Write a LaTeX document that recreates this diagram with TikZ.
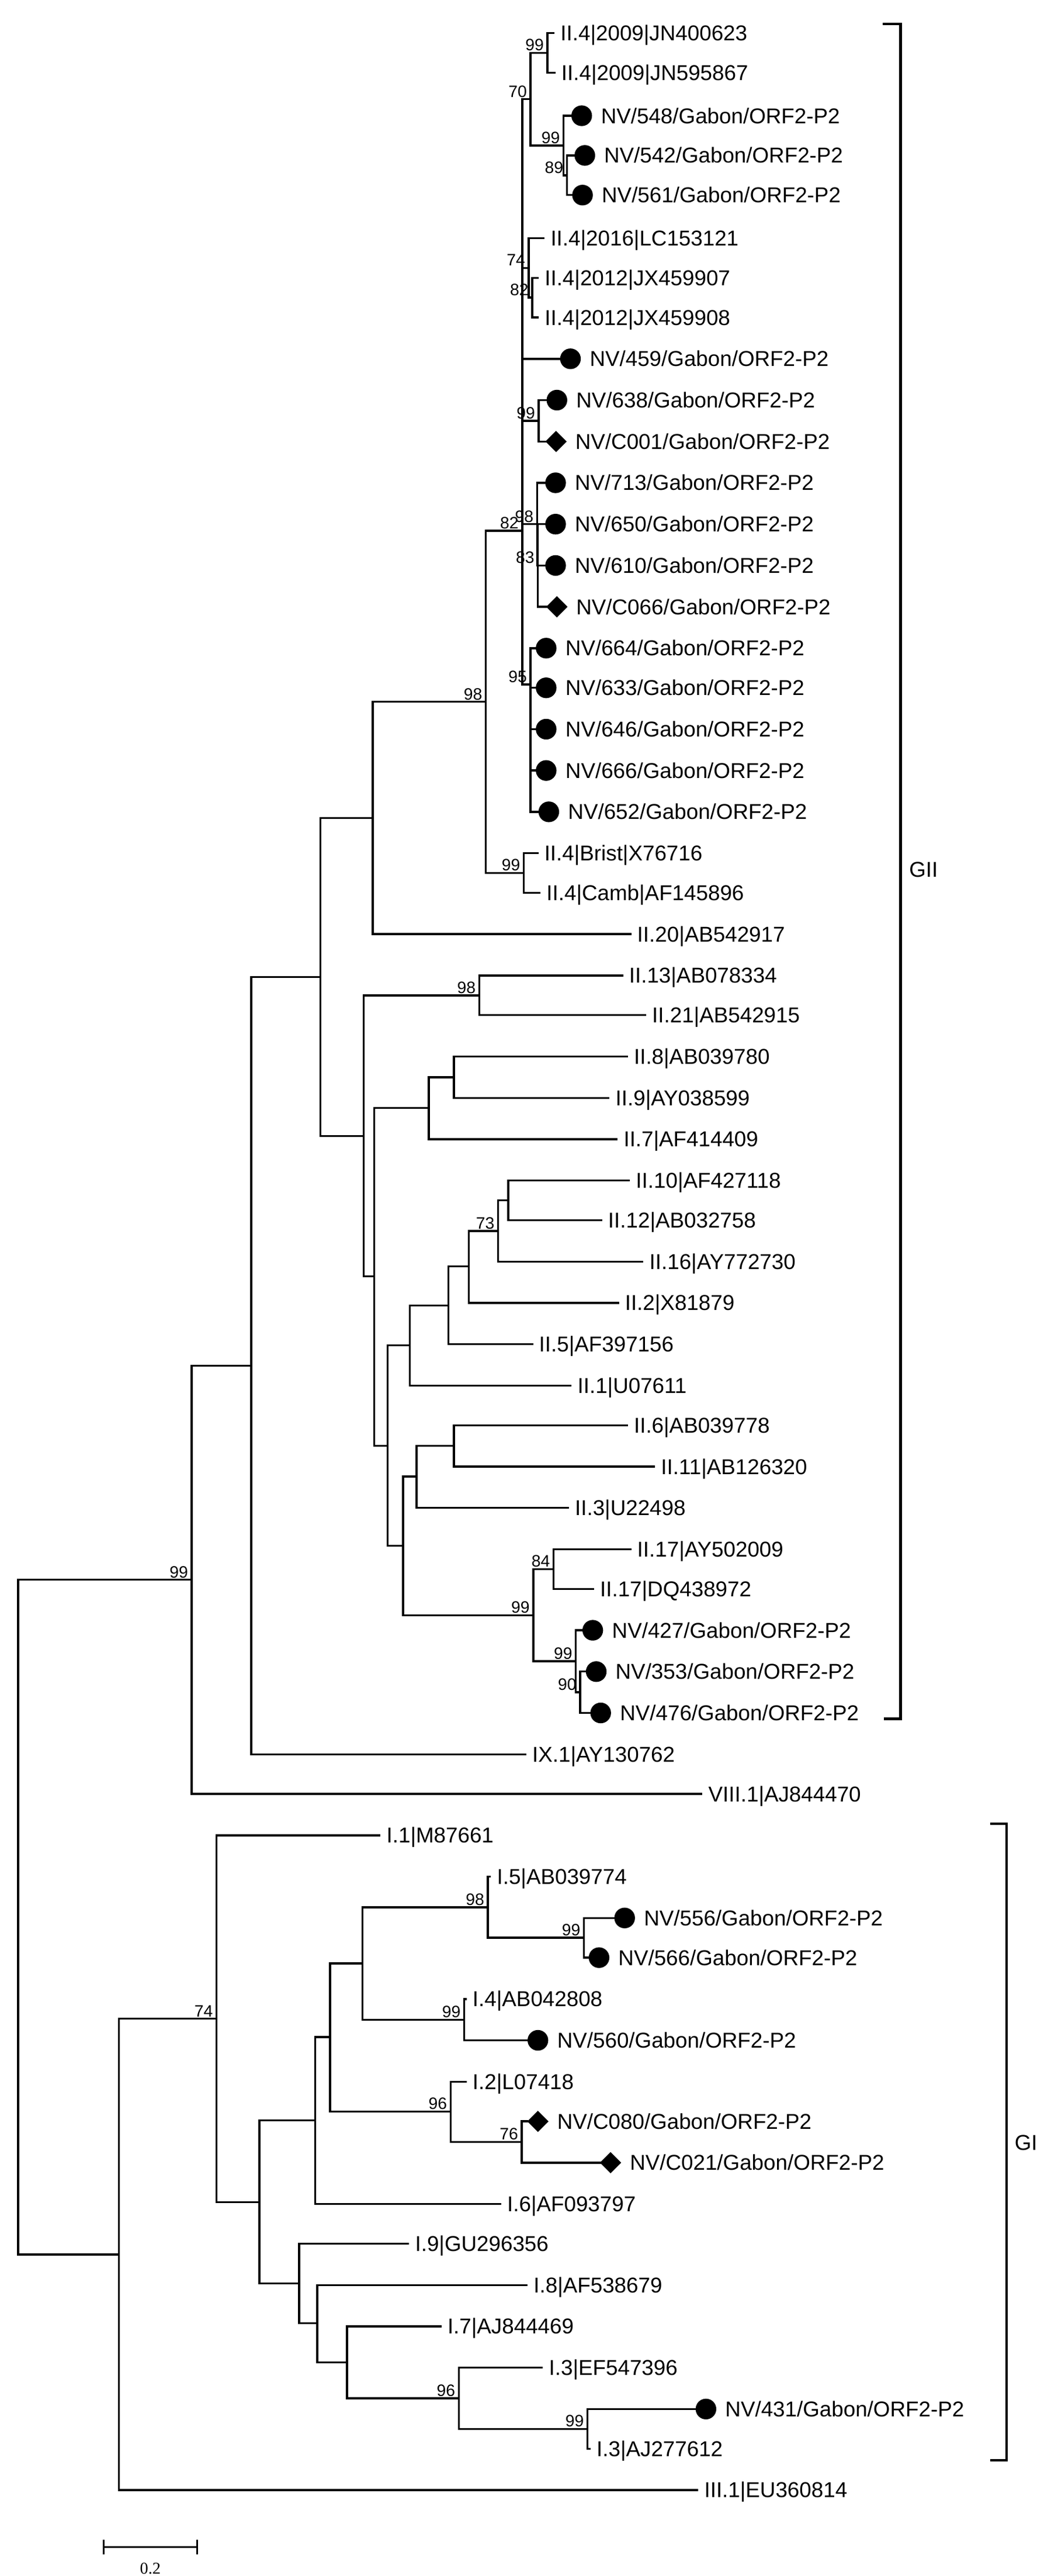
\documentclass[tikz,border=0pt]{standalone}
\usepackage{fontspec}
\setmainfont{Liberation Sans}
\newfontfamily\serifb{Liberation Serif}
\usetikzlibrary{shapes.geometric}
\tikzset{
  tr/.style={line width=1.2pt, line cap=rect},
  lbl/.style={anchor=base west, inner sep=0pt, font=\fontsize{13}{15}\selectfont},
  bsl/.style={anchor=south east, inner sep=0pt, font=\fontsize{10}{12}\selectfont},
  dotm/.style={circle, fill=black, inner sep=0pt, minimum size=12.5pt},
  diam/.style={diamond, fill=black, inner sep=0pt, minimum size=13pt},
  brk/.style={line width=1.5pt}
}
\newcommand\nd[3]{\coordinate (#1) at (#2,#3);}
\newcommand\lfn[4]{\coordinate (#1) at ({#2-4},#3);\node[lbl] (#1t) at (#2,{#3+4.6}) {#4};}
\newcommand\lfc[4]{\coordinate (#1) at ({#2-18},#3);\node[dotm] (#1m) at ({#2-11.5},#3) {};\node[lbl] (#1t) at (#2,{#3+4.6}) {#4};}
\newcommand\lfd[4]{\coordinate (#1) at ({#2-18},#3);\node[diam] (#1m) at ({#2-11.5},#3) {};\node[lbl] (#1t) at (#2,{#3+4.6}) {#4};}
\newcommand\br[2]{\draw[tr] (#1) |- (#2);}
\newcommand\bs[2]{\node[bsl] (bs#1) at ([xshift=-2pt,yshift=1pt]#1) {#2};}
\begin{document}
\begin{tikzpicture}[x=1pt,y=-1pt]
\useasboundingbox (0,0) rectangle (640,1558);
% leaves GII
\lfn{JNa}{339}{20}{II.4|2009|JN400623}
\lfn{JNb}{339.5}{44}{II.4|2009|JN595867}
\lfc{v548}{363.5}{70}{NV/548/Gabon/ORF2-P2}
\lfc{v542}{365.4}{94}{NV/542/Gabon/ORF2-P2}
\lfc{v561}{364}{118}{NV/561/Gabon/ORF2-P2}
\lfn{LC}{333}{144}{II.4|2016|LC153121}
\lfn{JXa}{329.4}{168}{II.4|2012|JX459907}
\lfn{JXb}{329.4}{192}{II.4|2012|JX459908}
\lfc{v459}{356.7}{217}{NV/459/Gabon/ORF2-P2}
\lfc{v638}{348.5}{242}{NV/638/Gabon/ORF2-P2}
\lfd{vC001}{348}{267}{NV/C001/Gabon/ORF2-P2}
\lfc{v713}{347.7}{292}{NV/713/Gabon/ORF2-P2}
\lfc{v650}{347.7}{317}{NV/650/Gabon/ORF2-P2}
\lfc{v610}{347.7}{342}{NV/610/Gabon/ORF2-P2}
\lfd{vC066}{348.5}{367}{NV/C066/Gabon/ORF2-P2}
\lfc{v664}{342}{392}{NV/664/Gabon/ORF2-P2}
\lfc{v633}{342}{416}{NV/633/Gabon/ORF2-P2}
\lfc{v646}{342}{441}{NV/646/Gabon/ORF2-P2}
\lfc{v666}{342}{466}{NV/666/Gabon/ORF2-P2}
\lfc{v652}{343.6}{491}{NV/652/Gabon/ORF2-P2}
\lfn{Brist}{329.2}{516}{II.4|Brist|X76716}
\lfn{Camb}{330.5}{540}{II.4|Camb|AF145896}
\lfn{IIxx}{385.4}{565}{II.20|AB542917}
\lfn{IIxiii}{380.5}{590}{II.13|AB078334}
\lfn{IIxxi}{394.4}{614}{II.21|AB542915}
\lfn{IIviii}{383.4}{639}{II.8|AB039780}
\lfn{IIix}{372.3}{664}{II.9|AY038599}
\lfn{IIvii}{377.2}{689}{II.7|AF414409}
\lfn{IIx}{384.6}{714}{II.10|AF427118}
\lfn{IIxii}{367.8}{738}{II.12|AB032758}
\lfn{IIxvi}{392.8}{763}{II.16|AY772730}
\lfn{IIii}{378}{788}{II.2|X81879}
\lfn{IIv}{326}{813}{II.5|AF397156}
\lfn{IIi}{349.3}{838}{II.1|U07611}
\lfn{IIvi}{383.4}{862}{II.6|AB039778}
\lfn{IIxi}{399.8}{887}{II.11|AB126320}
\lfn{IIiii}{347.7}{912}{II.3|U22498}
\lfn{IIxva}{385.4}{937}{II.17|AY502009}
\lfn{IIxvb}{362.9}{961}{II.17|DQ438972}
\lfc{v427}{370.2}{986}{NV/427/Gabon/ORF2-P2}
\lfc{v353}{372.3}{1011}{NV/353/Gabon/ORF2-P2}
\lfc{v476}{375}{1036}{NV/476/Gabon/ORF2-P2}
\lfn{IX}{321.9}{1061}{IX.1|AY130762}
\lfn{VIII}{428.5}{1085}{VIII.1|AJ844470}
% leaves GI
\lfn{Ii}{233.7}{1110}{I.1|M87661}
\lfn{Iv}{300.5}{1135}{I.5|AB039774}
\lfc{v556}{389.5}{1160}{NV/556/Gabon/ORF2-P2}
\lfc{v566}{374}{1184}{NV/566/Gabon/ORF2-P2}
\lfn{Iiv}{285.8}{1209}{I.4|AB042808}
\lfc{v560}{337}{1234}{NV/560/Gabon/ORF2-P2}
\lfn{Iii}{285.8}{1259}{I.2|L07418}
\lfd{vC080}{337}{1283}{NV/C080/Gabon/ORF2-P2}
\lfd{vC021}{381}{1308}{NV/C021/Gabon/ORF2-P2}
\lfn{Ivi}{306.7}{1333}{I.6|AF093797}
\lfn{Iix}{251}{1357}{I.9|GU296356}
\lfn{Iviii}{322.7}{1382}{I.8|AF538679}
\lfn{Ivii}{270.6}{1407}{I.7|AJ844469}
\lfn{IiiiE}{332}{1432}{I.3|EF547396}
\lfc{v431}{438.7}{1457}{NV/431/Gabon/ORF2-P2}
\lfn{IiiiA}{360.8}{1481}{I.3|AJ277612}
\lfn{III}{426}{1506}{III.1|EU360814}
% internal nodes GII.4
\nd{Na}{331.3}{32}\br{Na}{JNa}\br{Na}{JNb}
\nd{Nn}{343}{106}\br{Nn}{v542}\br{Nn}{v561}
\nd{Nb}{341}{88}\br{Nb}{v548}\br{Nb}{Nn}
\nd{Nc}{321}{60}\br{Nc}{Na}\br{Nc}{Nb}
\nd{Nx}{322}{180}\br{Nx}{JXa}\br{Nx}{JXb}
\nd{Ny}{320}{162}\br{Ny}{LC}\br{Ny}{Nx}
\nd{Nd}{326}{254.5}\br{Nd}{v638}\br{Nd}{vC001}
\nd{Ne}{325.5}{342}\br{Ne}{v650}\br{Ne}{v610}\br{Ne}{vC066}
\nd{Nf}{325}{317}\br{Nf}{v713}\br{Nf}{Ne}
\nd{Ng}{321}{414}\br{Ng}{v664}\br{Ng}{v633}\br{Ng}{v646}\br{Ng}{v666}\br{Ng}{v652}
\nd{Nh}{316}{321}\br{Nh}{Nc}\br{Nh}{Ny}\br{Nh}{v459}\br{Nh}{Nd}\br{Nh}{Nf}\br{Nh}{Ng}
\nd{Nbr}{317}{528}\br{Nbr}{Brist}\br{Nbr}{Camb}
\nd{Ni}{294}{424.5}\br{Ni}{Nh}\br{Ni}{Nbr}
\nd{Nj}{225.5}{494.7}\br{Nj}{Ni}\br{Nj}{IIxx}
% other GII
\nd{Nk}{290}{602}\br{Nk}{IIxiii}\br{Nk}{IIxxi}
\nd{Nl}{274.7}{651.5}\br{Nl}{IIviii}\br{Nl}{IIix}
\nd{Nw}{259.5}{670}\br{Nw}{Nl}\br{Nw}{IIvii}
\nd{Nm}{307.5}{726}\br{Nm}{IIx}\br{Nm}{IIxii}
\nd{Nt}{301.4}{744.5}\br{Nt}{Nm}\br{Nt}{IIxvi}
\nd{Nu}{283.7}{766}\br{Nu}{Nt}\br{Nu}{IIii}
\nd{Nv}{271.4}{789.5}\br{Nv}{Nu}\br{Nv}{IIv}
\nd{Np}{248}{813.7}\br{Np}{Nv}\br{Np}{IIi}
\nd{Nq}{274.7}{874.5}\br{Nq}{IIvi}\br{Nq}{IIxi}
\nd{Nr}{252}{893}\br{Nr}{Nq}\br{Nr}{IIiii}
\nd{Ns}{335}{949}\br{Ns}{IIxva}\br{Ns}{IIxvb}
\nd{No}{351}{1023.5}\br{No}{v353}\br{No}{v476}
\nd{Nz}{348.5}{1004.7}\br{Nz}{v427}\br{Nz}{No}
\nd{NA}{322.7}{977}\br{NA}{Ns}\br{NA}{Nz}
\nd{NB}{244}{935}\br{NB}{Nr}\br{NB}{NA}
\nd{NC}{234.5}{874.4}\br{NC}{Np}\br{NC}{NB}
\nd{ND}{226.5}{772}\br{ND}{Nw}\br{ND}{NC}
\nd{NE}{220}{687}\br{NE}{Nk}\br{NE}{ND}
\nd{NF}{194}{591}\br{NF}{Nj}\br{NF}{NE}
\nd{NG}{152}{826}\br{NG}{NF}\br{NG}{IX}
\nd{NH}{116}{955.5}\br{NH}{NG}\br{NH}{VIII}
% GI
\nd{Ma}{355.5}{1469}\br{Ma}{v431}\br{Ma}{IiiiA}
\nd{Mb}{277.6}{1450.5}\br{Mb}{IiiiE}\br{Mb}{Ma}
\nd{Mc}{210}{1428.7}\br{Mc}{Ivii}\br{Mc}{Mb}
\nd{Md}{192}{1405}\br{Md}{Iviii}\br{Md}{Mc}
\nd{Me}{181}{1381}\br{Me}{Iix}\br{Me}{Md}
\nd{Mf}{315.7}{1295.5}\br{Mf}{vC080}\br{Mf}{vC021}
\nd{Mg}{272.7}{1277}\br{Mg}{Iii}\br{Mg}{Mf}
\nd{Mh}{280.9}{1221.5}\br{Mh}{Iiv}\br{Mh}{v560}
\nd{Mi}{353.4}{1172}\br{Mi}{v556}\br{Mi}{v566}
\nd{Mj}{295.2}{1153.5}\br{Mj}{Iv}\br{Mj}{Mi}
\nd{Mk}{219.4}{1187.5}\br{Mk}{Mj}\br{Mk}{Mh}
\nd{Ml}{199.7}{1232}\br{Ml}{Mk}\br{Ml}{Mg}
\nd{Mm}{190.7}{1282.5}\br{Mm}{Ml}\br{Mm}{Ivi}
\nd{Mn}{157}{1332}\br{Mn}{Mm}\br{Mn}{Me}
\nd{Mo}{131}{1221}\br{Mo}{Ii}\br{Mo}{Mn}
\nd{Mp}{72}{1363.5}\br{Mp}{Mo}\br{Mp}{III}
\nd{Root}{11}{1159.5}\br{Root}{NH}\br{Root}{Mp}
% bootstrap
\bs{Na}{99}\bs{Nc}{70}\bs{Nb}{99}\bs{Nn}{89}\bs{Ny}{74}\bs{Nx}{82}
\bs{Nd}{99}\bs{Nf}{98}\bs{Ne}{83}\bs{Nh}{82}\bs{Ng}{95}\bs{Ni}{98}
\bs{Nbr}{99}\bs{Nk}{98}\bs{Nt}{73}\bs{Ns}{84}\bs{NA}{99}\bs{Nz}{99}
\bs{No}{90}\bs{NH}{99}
\bs{Mo}{74}\bs{Mj}{98}\bs{Mi}{99}\bs{Mh}{99}\bs{Mg}{96}\bs{Mf}{76}
\bs{Mb}{96}\bs{Ma}{99}
% brackets
\coordinate (g2a) at (534,14.4);\coordinate (g2b) at (535,1039.5);
\draw[brk] (g2a) -- (545,14.4) -- (545,1039.5) -- (g2b);
\node[lbl] (GII) at (550,530.6) {GII};
\coordinate (g1a) at (599.4,1103);\coordinate (g1b) at (599.4,1488);
\draw[brk] (g1a) -- (609,1103) -- (609,1488) -- (g1b);
\node[lbl] (GI) at (613.8,1300.6) {GI};
% scale bar
\coordinate (sa) at (62.7,1540.4);\coordinate (sb) at (119.3,1540.4);
\draw[line width=1.2pt] (sa) -- (sb);
\draw[line width=1.2pt] ([yshift=4.5pt]sa) -- ([yshift=-4.5pt]sa);
\draw[line width=1.2pt] ([yshift=4.5pt]sb) -- ([yshift=-4.5pt]sb);
\node[inner sep=0pt, font=\serifb\fontsize{10}{12}\selectfont] (sc) at (91,1553.6) {0.2};
\end{tikzpicture}
\end{document}
